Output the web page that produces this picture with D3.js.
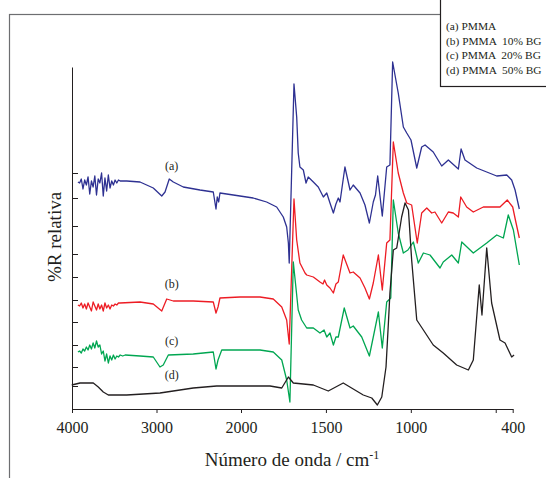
<!DOCTYPE html>
<html><head><meta charset="utf-8">
<script src="https://cdn.jsdelivr.net/npm/d3@7"></script>
<style>
body{margin:0;background:#fff}
svg{display:block}
text{font-family:"Liberation Serif","Times New Roman",serif;fill:#231f20}
</style>
</head><body>
<svg id="c" width="546" height="478"></svg>
<script>
// x: wavenumber (cm-1), y: relative %R (arbitrary units)
const seriesNames = ["(a) PMMA", "(b) PMMA  10% BG", "(c) PMMA  20% BG", "(d) PMMA  50% BG"];
const curveTags = ["(a)", "(b)", "(c)", "(d)"];
const seriesColors = ["#2e3192", "#ed1c24", "#00a651", "#231f20"];
const xTicks = [4000, 3000, 2000, 1500, 1000, 500, 400];
const xTickLabels = [4000, 3000, 2000, 1500, 1000, 400];
const yTicks = [236, 211, 183, 155, 132, 109, 87, 64, 42, 23];

const seriesA = [[3930,227],[3910,226],[3890,230],[3870,220],[3850,229],[3830,224],[3810,232],[3790,215],[3770,228],[3750,222],[3730,233],[3710,214],[3690,230],[3670,226],[3650,236],[3630,213],[3610,231],[3590,218],[3570,234],[3550,221],[3530,228],[3510,224],[3490,229],[3470,226],[3450,229],[3430,228],[3353,228],[3195,227],[3038,221],[2938,213],[2899,217],[2849,230],[2801,227],[2683,222],[2485,219],[2328,217],[2296,200],[2281,212],[2264,207],[2249,216],[2091,214],[1928,211],[1849,207],[1790,202],[1751,192],[1731,182],[1721,166],[1716,146],[1688,325],[1672,292],[1663,256],[1653,242],[1633,239],[1617,226],[1604,232],[1574,227],[1545,222],[1515,212],[1495,216],[1476,206],[1456,196],[1441,205],[1427,211],[1417,207],[1388,242],[1358,219],[1339,224],[1299,216],[1270,204],[1244,186],[1221,207],[1208,214],[1195,233],[1168,193],[1142,242],[1123,244],[1107,347],[1074,316],[1044,282],[1024,276],[999,269],[965,241],[936,262],[916,264],[868,257],[818,243],[779,249],[720,240],[704,260],[681,249],[612,241],[553,237],[494,233],[435,234],[406,229],[386,219],[361,200]];

const seriesB = [[3930,104],[3910,103],[3890,106],[3870,101],[3850,105],[3830,100],[3810,106],[3790,102],[3770,98],[3750,107],[3730,103],[3710,99],[3690,105],[3670,100],[3650,104],[3630,98],[3610,106],[3590,101],[3570,104],[3550,100],[3530,104],[3510,103],[3490,105],[3470,104],[3450,106],[3432,106],[3195,107],[3038,105],[2938,98],[2879,110],[2801,108],[2565,108],[2328,107],[2296,96],[2272,102],[2249,111],[2012,112],[1888,112],[1810,110],[1760,102],[1731,89],[1716,65],[1688,210],[1672,169],[1653,146],[1623,136],[1613,134],[1574,132],[1535,127],[1517,125],[1508,129],[1495,124],[1476,121],[1456,116],[1441,125],[1427,127],[1398,154],[1358,136],[1339,137],[1299,131],[1270,121],[1244,110],[1221,126],[1191,154],[1168,119],[1142,166],[1123,169],[1103,267],[1074,236],[1044,216],[1024,206],[995,204],[962,166],[936,196],[906,201],[877,196],[858,197],[818,186],[779,197],[750,196],[720,192],[706,212],[671,202],[632,197],[573,202],[475,202],[432,209],[400,202],[384,189],[361,171]];

const seriesC = [[3930,57],[3910,58],[3890,56],[3870,60],[3850,58],[3830,62],[3810,59],[3790,64],[3770,60],[3750,66],[3730,61],[3710,68],[3690,62],[3670,64],[3650,55],[3630,58],[3610,48],[3590,55],[3570,46],[3550,53],[3530,49],[3510,54],[3490,50],[3470,53],[3450,52],[3430,54],[3400,53],[3370,54],[3195,53],[3038,52],[2959,42],[2920,44],[2860,54],[2565,55],[2328,57],[2296,40],[2272,49],[2228,59],[2012,59],[1888,59],[1810,57],[1760,49],[1731,29],[1712,7],[1692,147],[1663,99],[1643,89],[1613,81],[1574,81],[1535,76],[1511,79],[1495,72],[1476,76],[1456,64],[1441,72],[1427,72],[1392,101],[1358,81],[1339,83],[1289,72],[1244,53],[1221,72],[1191,97],[1168,61],[1142,107],[1118,111],[1103,209],[1074,176],[1044,156],[1017,159],[985,167],[956,146],[926,156],[887,154],[828,141],[809,147],[759,154],[720,146],[700,167],[632,156],[553,166],[494,174],[455,171],[426,194],[396,179],[361,144]];

const seriesD = [[4003,24],[3905,26],[3748,26],[3689,22],[3630,17],[3570,14],[3353,14],[2959,16],[2565,21],[2288,23],[1829,23],[1760,21],[1721,32],[1692,26],[1574,24],[1486,18],[1398,26],[1280,14],[1230,11],[1197,4],[1171,12],[1146,42],[1132,86],[1123,116],[1103,159],[1083,161],[1054,192],[1034,206],[1014,199],[995,149],[965,89],[926,79],[868,64],[809,56],[730,44],[661,39],[632,49],[597,124],[581,94],[553,161],[524,106],[475,69],[445,66],[406,52],[392,54]];

const allSeries = [seriesA, seriesB, seriesC, seriesD];
const tagPos = [[2820, 239], [2820, 121], [2820, 64], [2820, 30]];

const svg = d3.select("#c");
const x = d3.scaleLinear().domain([4000, 2000, 400]).range([72, 241, 512.7]);
const y = d3.scaleLinear().domain([0, 342]).range([409, 67]);

// outer frame
svg.append("rect").attr("x", 9.5).attr("y", 14.5).attr("width", 700).attr("height", 700)
  .attr("fill", "none").attr("stroke", "#6d6e71").attr("stroke-width", 1.2);

// axes
const xAxis = d3.axisBottom(x).tickValues(xTicks).tickSize(4).tickSizeOuter(0).tickPadding(9)
  .tickFormat(d => xTickLabels.includes(d) ? String(d) : "");
const gx = svg.append("g").attr("transform", "translate(0,409)").call(xAxis);
gx.selectAll("text").style("font-size", "16px").attr("fill", "#231f20");
gx.selectAll("line,path").attr("stroke", "#231f20");

const yAxis = d3.axisLeft(y).tickValues(yTicks).tickSizeInner(-6).tickSizeOuter(0).tickFormat("");
const gy = svg.append("g").attr("transform", "translate(72,0)").call(yAxis);
gy.selectAll("line,path").attr("stroke", "#231f20");

// curves
const line = d3.line().x(d => x(d[0])).y(d => y(d[1]));
allSeries.forEach((s, i) => {
  svg.append("path").datum(s).attr("d", line).attr("fill", "none")
    .attr("stroke", seriesColors[i]).attr("stroke-width", 1.3).attr("stroke-linejoin", "round");
});

// curve tags
curveTags.forEach((t, i) => {
  svg.append("text").attr("x", x(tagPos[i][0])).attr("y", y(tagPos[i][1]))
    .attr("text-anchor", "middle").style("font-size", "12px").attr("fill", "#404041").text(t);
});

// axis titles
const xt = svg.append("text").attr("x", 292).attr("y", 466).attr("text-anchor", "middle").style("font-size", "19px");
xt.append("tspan").text("Número de onda / cm");
xt.append("tspan").attr("dy", -7).style("font-size", "12px").text("-1");

svg.append("text").attr("transform", "translate(61,237) rotate(-90)").attr("text-anchor", "middle")
  .style("font-size", "19px").text("%R relativa");

// legend
svg.append("rect").attr("x", 440.5).attr("y", -2).attr("width", 140).attr("height", 88.5)
  .attr("fill", "#fff").attr("stroke", "#231f20").attr("stroke-width", 1.2);
seriesNames.forEach((n, i) => {
  svg.append("text").attr("x", 446).attr("y", 30 + i * 14.6).style("font-size", "11.4px")
    .style("white-space", "pre").attr("xml:space", "preserve").text(n);
});
</script>
</body></html>
